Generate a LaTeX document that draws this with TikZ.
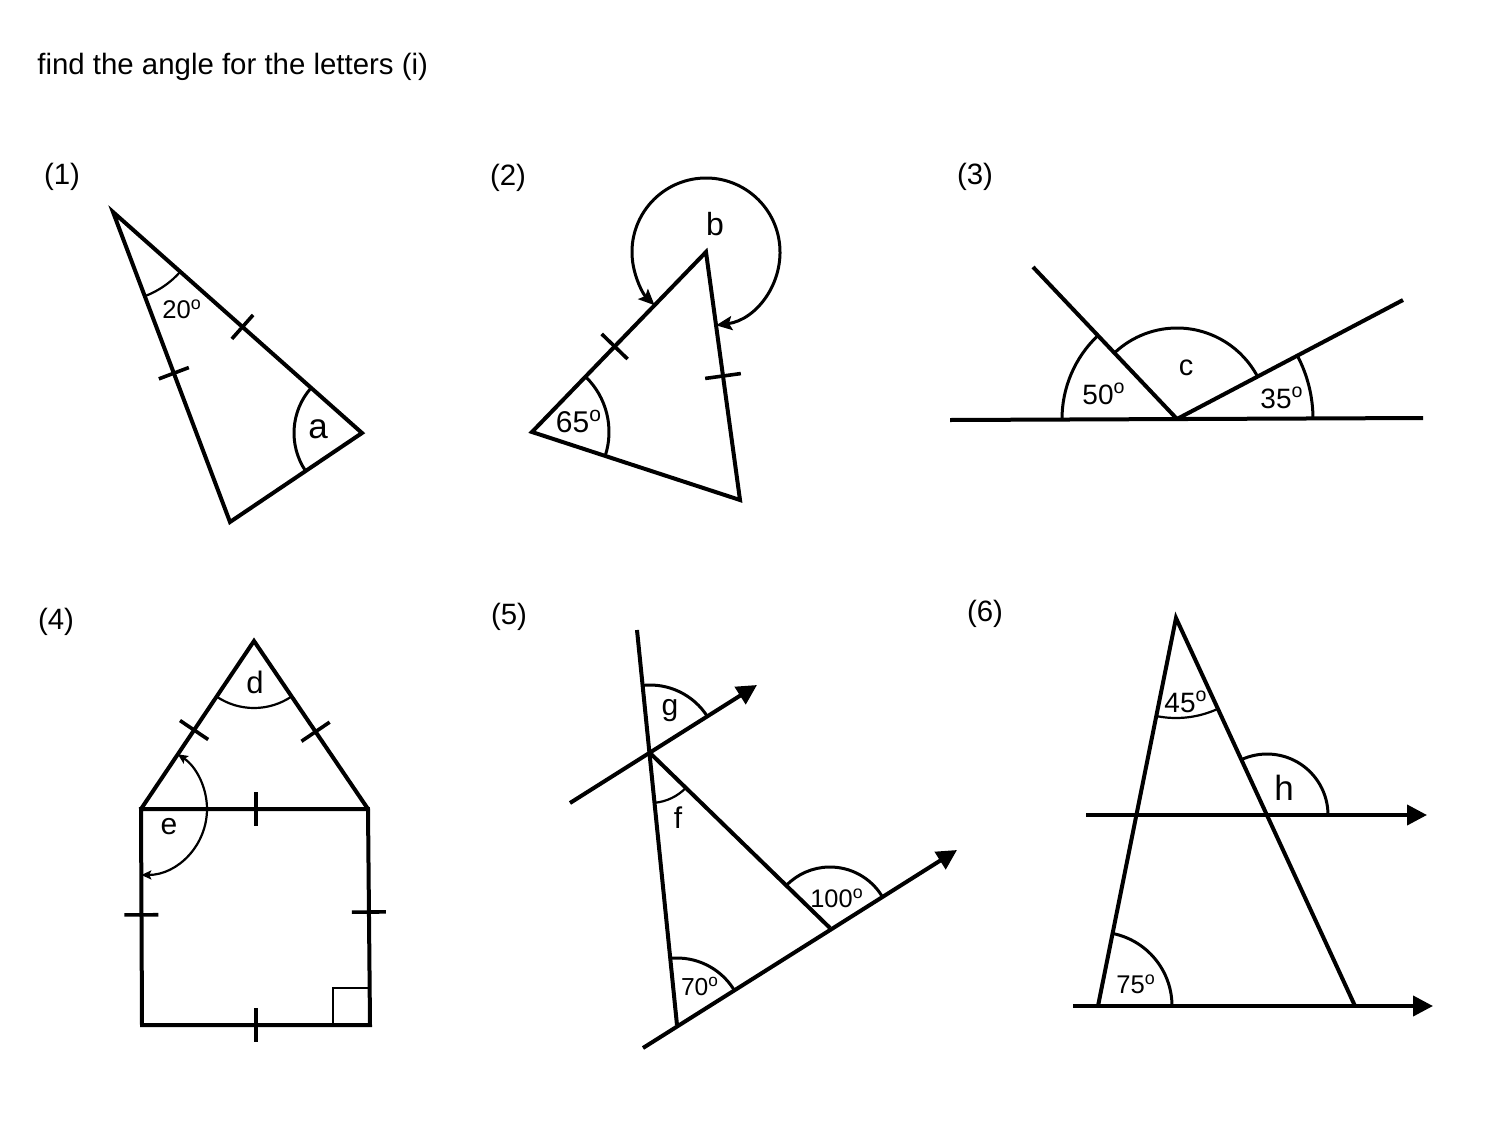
\documentclass[tikz,border=0pt]{standalone}
\usepackage{fontspec}
\setmainfont{Liberation Sans}
\usetikzlibrary{angles,calc,arrows.meta}
\newcommand\tk[4]{\draw[tick] ($($(#1)!#3!(#2)$)!#4!90:(#2)$) -- ($($(#1)!#3!(#2)$)!#4!-90:(#2)$);}
\begin{document}
\begin{tikzpicture}[x=0.5pt,y=0.5pt,
  ln/.style={line width=2pt},
  tick/.style={line width=1.8pt},
  arcthin/.style={draw,line width=1.1pt},
  arcmid/.style={draw,line width=1.5pt},
  txt/.style={inner sep=0pt,anchor=base,font=\fontsize{#1}{#1}\selectfont},
  txt/.default=14,
  bigtip/.style={-{Triangle[length=10pt,width=10pt]}},
  tipb/.style={arrows={Stealth[length=8pt,width=7pt,inset=1.5pt]-Stealth[length=8pt,width=7pt,inset=1.5pt]}},
  tipe/.style={arrows={Stealth[length=5pt,width=4.5pt,inset=1pt]-Stealth[length=5pt,width=4.5pt,inset=1pt]}},
]
\useasboundingbox (0,0) rectangle (1500,-1125);

\node[txt=14.7,anchor=base west] (title) at (37,-74) {find the angle for the letters (i)};
\node[txt=14.7] (n1) at (62,-184) {(1)};
\node[txt=14.7] (n2) at (508,-185) {(2)};
\node[txt=14.7] (n3) at (975,-184) {(3)};
\node[txt=14.7] (n4) at (56,-629) {(4)};
\node[txt=14.7] (n5) at (509,-624) {(5)};
\node[txt=14.7] (n6) at (985,-621) {(6)};

% (1)
\coordinate (A1) at (113,-212);
\coordinate (B1) at (230,-522);
\coordinate (C1) at (362,-433);
\draw[ln] (A1) -- (B1) -- (C1) -- cycle;
\tk{A1}{B1}{0.52}{8pt}
\tk{A1}{C1}{0.52}{8pt}
\pic[arcthin,angle radius=45pt] {angle=B1--A1--C1};
\pic[arcmid,angle radius=34pt] {angle=A1--C1--B1};
\node[txt=12.8] (l20) at (182,-318) {20\textsuperscript{o}};
\node[txt=17.5] (la) at (318,-438) {a};

% (2)
\coordinate (L2) at (532,-432);
\coordinate (T2) at (706,-252);
\coordinate (R2) at (740,-500);
\draw[ln] (L2) -- (T2) -- (R2) -- cycle;
\tk{L2}{T2}{0.475}{9pt}
\tk{T2}{R2}{0.5}{9pt}
\pic[arcmid,angle radius=38.5pt] {angle=R2--L2--T2};
\pic[arcmid,tipb,angle radius=37pt] {angle=R2--T2--L2};
\node[txt=15] (l65) at (579,-432) {65\textsuperscript{o}};
\node[txt=16] (lb) at (715,-235) {b};

% (3)
\coordinate (W3) at (950,-420);
\coordinate (E3) at (1423,-418);
\coordinate (O3) at (1177,-419);
\coordinate (P3) at (1033,-267);
\coordinate (Q3) at (1403,-300);
\draw[ln] (W3) -- (E3);
\draw[ln] (O3) -- (P3);
\draw[ln] (O3) -- (Q3);
\pic[arcmid,angle radius=57.5pt] {angle=P3--O3--W3};
\pic[arcmid,angle radius=45.5pt] {angle=Q3--O3--P3};
\pic[arcmid,angle radius=68pt] {angle=E3--O3--Q3};
\node[txt=14] (l50) at (1104,-404) {50\textsuperscript{o}};
\node[txt=14.5] (lc) at (1186,-375) {c};
\node[txt=14] (l35) at (1282,-408) {35\textsuperscript{o}};

% (4)
\coordinate (P4) at (254,-641);
\coordinate (Q4) at (141,-809);
\coordinate (R4) at (368,-809);
\coordinate (S4) at (142,-1025);
\coordinate (U4) at (370,-1025);
\draw[ln] (Q4) -- (P4) -- (R4);
\draw[ln] (R4) -- (Q4) -- (S4) -- (U4) -- cycle;
\tk{P4}{Q4}{0.53}{8.5pt}
\tk{P4}{R4}{0.54}{8.5pt}
\tk{Q4}{R4}{0.507}{8.5pt}
\tk{Q4}{S4}{0.49}{8.5pt}
\tk{R4}{U4}{0.477}{8.5pt}
\tk{S4}{U4}{0.5}{8.5pt}
\draw[line width=1pt] ($(U4)+(-37,0)$) -- ++(0,37) -- ++(37,0);
\pic[arcthin,angle radius=33.5pt] {angle=Q4--P4--R4};
\pic[arcthin,tipe,angle radius=33pt] {angle=S4--Q4--P4};
\node[txt=15.5] (ld) at (255,-693) {d};
\node[txt=15] (le) at (169,-834) {e};

% (5)
\coordinate (V5) at (637,-630);
\coordinate (F5) at (677,-1025);
\coordinate (X5) at (650,-753);
\coordinate (U51) at (570,-803);
\coordinate (U52) at (757,-685);
\coordinate (L51) at (643,-1048);
\coordinate (L52) at (957,-850);
\coordinate (D5) at (830,-928);
\draw[ln] (V5) -- (F5);
\draw[ln,bigtip] (U51) -- (U52);
\draw[ln,bigtip] (L51) -- (L52);
\draw[ln] (X5) -- (D5);
\pic[arcmid,angle radius=34pt] {angle=U52--X5--V5};
\pic[arcthin,angle radius=25pt] {angle=F5--X5--D5};
\pic[arcmid,angle radius=33.5pt] {angle=D5--F5--X5};
\pic[arcmid,angle radius=30.5pt] {angle=L52--D5--X5};
\node[txt=15] (lg) at (670,-715) {g};
\node[txt=15] (lf) at (678,-828) {f};
\node[txt=12.7] (l100) at (837,-907) {100\textsuperscript{o}};
\node[txt=12.3] (l70) at (700,-995) {70\textsuperscript{o}};

% (6)
\coordinate (A6) at (1176,-618);
\coordinate (B6) at (1098,-1006);
\coordinate (C6) at (1355,-1006);
\coordinate (K6) at (1267,-815);
\coordinate (H61) at (1086,-815);
\coordinate (H62) at (1427,-815);
\coordinate (G61) at (1073,-1006);
\coordinate (G62) at (1433,-1006);
\draw[ln] (B6) -- (A6) -- (C6);
\draw[ln,bigtip] (H61) -- (H62);
\draw[ln,bigtip] (G61) -- (G62);
\pic[arcthin,angle radius=50pt] {angle=B6--A6--C6};
\pic[arcmid,angle radius=30.5pt] {angle=H62--K6--A6};
\pic[arcmid,angle radius=37pt] {angle=C6--B6--A6};
\node[txt=14] (l45) at (1186,-712) {45\textsuperscript{o}};
\node[txt=17.5] (lh) at (1284,-800) {h};
\node[txt=12.8] (l75) at (1136,-993) {75\textsuperscript{o}};
\end{tikzpicture}
\end{document}
